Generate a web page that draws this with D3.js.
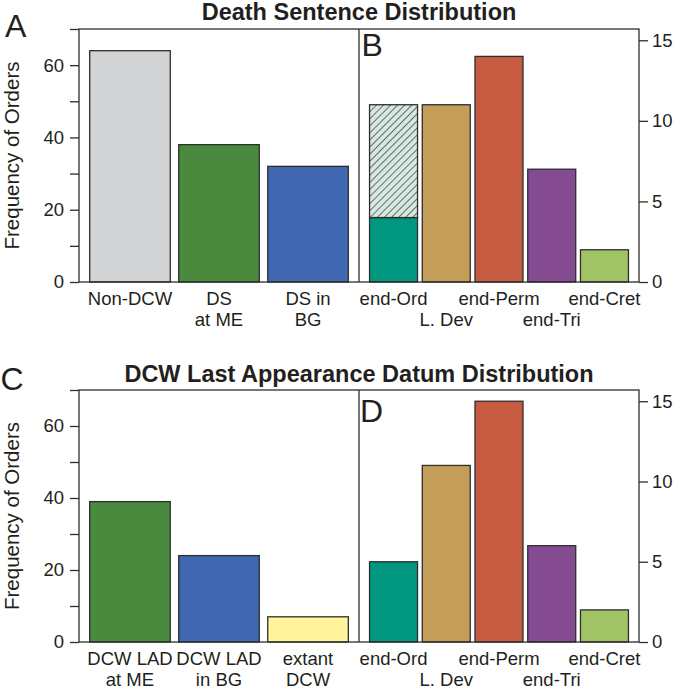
<!DOCTYPE html>
<html><head><meta charset="utf-8">
<script src="https://cdn.jsdelivr.net/npm/d3@7"></script>
<style>
html,body{margin:0;padding:0;background:#fff;}
text{font-family:"Liberation Sans",Arial,Helvetica,sans-serif;fill:#231f20;}
</style></head>
<body>
<svg id="chart" width="677" height="694"></svg>
<script>
// ---------- data ----------
const titleTop = "Death Sentence Distribution";
const titleBottom = "DCW Last Appearance Datum Distribution";
const yLabel = "Frequency of Orders";

const topLeftCats = ["Non-DCW", "DS\nat ME", "DS in\nBG"];
const topLeftValues = [64, 38, 32];
const topLeftColors = ["#d1d3d4", "#4a8a3f", "#3f68b0"];

const periods = ["end-Ord", "L. Dev", "end-Perm", "end-Tri", "end-Cret"];
const periodColors = ["#00967f", "#c49e58", "#c75b42", "#844b93", "#a0c465"];
const topRightSolid = [4, 11, 14, 7, 2];
const topRightHatched = [7, 0, 0, 0, 0];

const bottomLeftCats = ["DCW LAD\nat ME", "DCW LAD\nin BG", "extant\nDCW"];
const bottomLeftValues = [39, 24, 7];
const bottomLeftColors = ["#4a8a3f", "#3f68b0", "#fff49c"];

const bottomRightValues = [5, 11, 15, 6, 2];

const leftTicks = [0, 10, 20, 30, 40, 50, 60, 70];
const leftTickLabels = [0, 20, 40, 60];
const rightTicks = [0, 5, 10, 15];

// ---------- drawing ----------
const svg = d3.select("#chart");
const defs = svg.append("defs");
const pat = defs.append("pattern").attr("id", "hatch")
  .attr("patternUnits", "userSpaceOnUse").attr("width", 5).attr("height", 5)
  .attr("patternTransform", "rotate(45)");
pat.append("rect").attr("width", 5).attr("height", 5).attr("fill", "#d6e8e0");
pat.append("line").attr("x1", 0).attr("y1", 0).attr("x2", 0).attr("y2", 5)
  .attr("stroke", "#2b2b2b").attr("stroke-width", 1.3);

const X0 = 79, XMID = 359, X1 = 639;
const lineColor = "#2e2e2e";
const FS = 18.5;

function panel(cfg) {
  const g = svg.append("g");
  const yTop = cfg.top, yBot = cfg.bottom;
  const yL = d3.scaleLinear().domain([0, 70]).range([yBot, yTop]);
  const yR = d3.scaleLinear().domain([0, 15.7]).range([yBot, yTop]);
  const xL = d3.scaleBand().domain(cfg.leftCats).range([X0, XMID]).paddingInner(0.095).paddingOuter(0.12);
  const xR = d3.scaleBand().domain(periods).range([XMID, X1]).paddingInner(0.09).paddingOuter(0.2);

  // title
  g.append("text").attr("x", XMID).attr("y", cfg.titleY).attr("text-anchor", "middle")
    .attr("font-size", 23.5).attr("font-weight", "bold").text(cfg.title);

  // left bars
  g.selectAll(".lb").data(cfg.leftValues).join("rect")
    .attr("x", (d, i) => xL(cfg.leftCats[i]))
    .attr("width", xL.bandwidth())
    .attr("y", d => yL(d)).attr("height", d => yL(0) - yL(d))
    .attr("fill", (d, i) => cfg.leftColors[i]).attr("stroke", lineColor).attr("stroke-width", 1.3);

  // right bars (solid)
  g.selectAll(".rb").data(cfg.rightSolid).join("rect")
    .attr("x", (d, i) => xR(periods[i]))
    .attr("width", xR.bandwidth())
    .attr("y", d => yR(d)).attr("height", d => yR(0) - yR(d))
    .attr("fill", (d, i) => periodColors[i]).attr("stroke", lineColor).attr("stroke-width", 1.3);
  // right bars (hatched, stacked)
  if (cfg.rightHatched) {
    g.selectAll(".rh").data(cfg.rightHatched.map((h, i) => ({h, base: cfg.rightSolid[i], i})).filter(d => d.h > 0))
      .join("rect")
      .attr("x", d => xR(periods[d.i]))
      .attr("width", xR.bandwidth())
      .attr("y", d => yR(d.base + d.h)).attr("height", d => yR(d.base) - yR(d.base + d.h))
      .attr("fill", "url(#hatch)").attr("stroke", lineColor).attr("stroke-width", 1.3);
  }

  // box and divider
  g.append("rect").attr("x", X0).attr("y", yTop).attr("width", X1 - X0).attr("height", yBot - yTop)
    .attr("fill", "none").attr("stroke", lineColor).attr("stroke-width", 1.3);
  g.append("line").attr("x1", XMID).attr("x2", XMID).attr("y1", yTop).attr("y2", yBot)
    .attr("stroke", lineColor).attr("stroke-width", 1.3);

  // left axis
  const la = g.append("g").attr("transform", `translate(${X0},0)`)
    .call(d3.axisLeft(yL).tickValues(leftTicks).tickSize(9).tickPadding(6)
      .tickFormat(d => leftTickLabels.includes(d) ? d : ""));
  la.select(".domain").remove();
  la.selectAll("line").attr("stroke", lineColor).attr("stroke-width", 1.3);
  la.selectAll("text").attr("font-size", FS).attr("fill", "#231f20")
    .style("font-family", '"Liberation Sans",Arial,sans-serif');

  // right axis
  const ra = g.append("g").attr("transform", `translate(${X1},0)`)
    .call(d3.axisRight(yR).tickValues(rightTicks).tickSize(9).tickPadding(4));
  ra.select(".domain").remove();
  ra.selectAll("line").attr("stroke", lineColor).attr("stroke-width", 1.3);
  ra.selectAll("text").attr("font-size", FS).attr("fill", "#231f20")
    .style("font-family", '"Liberation Sans",Arial,sans-serif');

  // y label
  g.append("text").attr("transform", `translate(19,${(yTop + yBot) / 2}) rotate(-90)`)
    .attr("text-anchor", "middle").attr("font-size", 20.5).text(yLabel);

  // left category labels
  cfg.leftCats.forEach(c => {
    const t = g.append("text").attr("text-anchor", "middle").attr("font-size", FS);
    c.split("\n").forEach((ln, k) => {
      t.append("tspan").attr("x", xL(c) + xL.bandwidth() / 2).attr("y", yBot + 23 + k * 21).text(ln);
    });
  });
  // right period labels (staggered)
  periods.forEach((p, i) => {
    g.append("text").attr("text-anchor", "middle").attr("font-size", FS)
      .attr("x", xR(p) + xR.bandwidth() / 2).attr("y", yBot + 23 + (i % 2) * 21).text(p);
  });

  // panel letters
  g.append("text").attr("x", cfg.letterL[1]).attr("y", cfg.letterL[2]).attr("font-size", 32).text(cfg.letterL[0]);
  g.append("text").attr("x", cfg.letterR[1]).attr("y", cfg.letterR[2]).attr("font-size", 32).text(cfg.letterR[0]);
}

panel({
  top: 29, bottom: 282, titleY: 19.5, title: titleTop,
  leftCats: topLeftCats, leftValues: topLeftValues, leftColors: topLeftColors,
  rightSolid: topRightSolid, rightHatched: topRightHatched,
  letterL: ["A", 5, 37], letterR: ["B", 361.5, 56]
});
panel({
  top: 390, bottom: 642, titleY: 382, title: titleBottom,
  leftCats: bottomLeftCats, leftValues: bottomLeftValues, leftColors: bottomLeftColors,
  rightSolid: bottomRightValues, rightHatched: null,
  letterL: ["C", 0.5, 390], letterR: ["D", 360, 421.5]
});
</script>
</body></html>
